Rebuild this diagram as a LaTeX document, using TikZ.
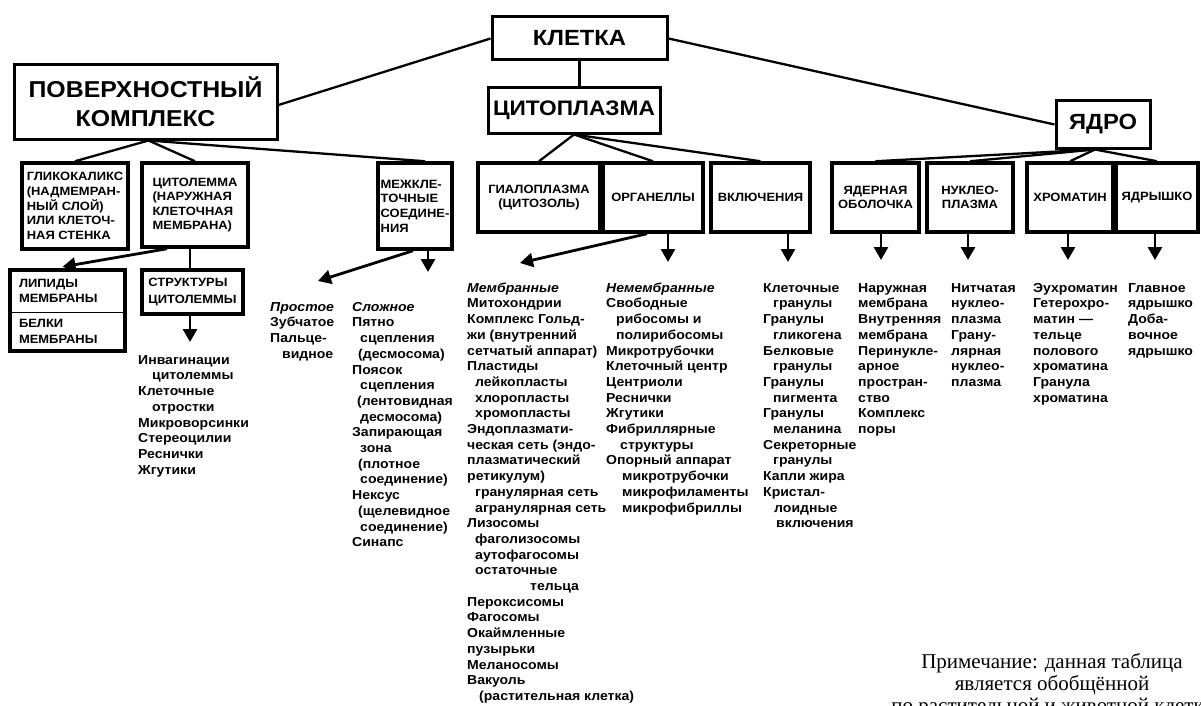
\documentclass[tikz,border=0pt]{standalone}
\usepackage{fontspec}
\setmainfont{Liberation Serif}
\newfontfamily\wsans[FakeStretch=1.08]{Liberation Sans}
\usetikzlibrary{arrows.meta,calc}
\newcommand\myind[1][8pt]{\hspace*{#1}}
\newcommand\firstl{\rule{0pt}{10pt}}
\tikzset{
  topbox/.style={draw, line width=3pt, inner sep=0pt, align=center,
    font=\wsans\bfseries\fontsize{22}{26}\selectfont},
  subbox/.style={draw, line width=3.5pt, inner sep=0pt,
    font=\wsans\bfseries\fontsize{12}{14.6}\selectfont},
  cell/.style={inner ysep=0pt, align=left,
    font=\wsans\bfseries\fontsize{12}{15.5}\selectfont},
  link/.style={line width=2.3pt},
  down/.style={line width=2.8pt, -{Triangle[length=13pt,width=14pt]}},
  col/.style={anchor=north west, inner sep=0pt, align=left,
    font=\wsans\bfseries\fontsize{13}{15.7}\selectfont},
  note/.style={anchor=north, inner sep=0pt, align=center,
    font=\fontsize{21}{22}\selectfont}
}
\begin{document}
\begin{tikzpicture}[x=1pt,y=-1pt]
\fill[white] (0,0) rectangle (1201,706);
\useasboundingbox (0,0) rectangle (1201,706);
\clip (0,0) rectangle (1201,706);

% top level
\node[topbox, minimum width=175pt, minimum height=43pt] (klet) at (579.5,38.5) {КЛЕТКА};
\node[topbox, font=\wsans\bfseries\fontsize{23}{29}\selectfont,
      minimum width=263pt, minimum height=74pt] (pov) at (145.5,102) {ПОВЕРХНОСТНЫЙ\\КОМПЛЕКС};
\node[topbox, font=\wsans\bfseries\fontsize{21}{26}\selectfont,
      minimum width=172pt, minimum height=45pt] (cyto) at (574,110.5) {ЦИТОПЛАЗМА};
\node[topbox, minimum width=94pt, minimum height=47pt] (yadro) at (1103,124.5) {ЯДРО};

% second level: surface complex
\node[subbox, align=left, minimum width=106pt, minimum height=86pt] (glik) at (75,206)
  {ГЛИКОКАЛИКС\\(НАДМЕМРАН-\\НЫЙ СЛОЙ)\\ИЛИ КЛЕТОЧ-\\НАЯ СТЕНКА};
\node[subbox, align=left, minimum width=106pt, minimum height=84pt] (cytol) at (195,205)
  {ЦИТОЛЕММА\\(НАРУЖНАЯ\\КЛЕТОЧНАЯ\\МЕМБРАНА)};
\node[subbox, align=left, minimum width=74pt, minimum height=86pt] (mezh) at (415,206)
  {МЕЖКЛЕ-\\ТОЧНЫЕ\\СОЕДИНЕ-\\НИЯ};

% second level: cytoplasm
\node[subbox, align=center, minimum width=122pt, minimum height=69pt] (gial) at (539,197.5) {ГИАЛОПЛАЗМА\\(ЦИТОЗОЛЬ)};
\node[subbox, align=center, minimum width=100pt, minimum height=69pt] (org) at (653,197.5) {ОРГАНЕЛЛЫ};
\node[subbox, align=center, minimum width=99pt, minimum height=69pt] (vkl) at (760.5,197.5) {ВКЛЮЧЕНИЯ};

% second level: nucleus
\node[subbox, align=center, minimum width=87pt, minimum height=69pt] (yadob) at (875.5,197.5) {ЯДЕРНАЯ\\ОБОЛОЧКА};
\node[subbox, align=center, minimum width=86pt, minimum height=69pt] (nukl) at (970,197.5) {НУКЛЕО-\\ПЛАЗМА};
\node[subbox, align=center, minimum width=86pt, minimum height=69pt] (hrom) at (1070,197.5) {ХРОМАТИН};
\node[subbox, align=center, minimum width=82pt, minimum height=69pt] (yadr) at (1157,197.5) {ЯДРЫШКО};

% third level under the plasma membrane
\node[cell, text width=97pt, inner xsep=9pt, minimum height=42pt] (lipa) at (67.5,291) {ЛИПИДЫ\\МЕМБРАНЫ};
\node[cell, text width=97pt, inner xsep=9pt, minimum height=39pt] (lipb) at (67.5,331.5) {БЕЛКИ\\МЕМБРАНЫ};
\draw[line width=1.2pt] (lipa.south west) -- (lipa.south east);
\draw[line width=3.5pt] (lipa.north west) rectangle (lipb.south east);
\node[subbox, font=\wsans\bfseries\fontsize{12}{16.5}\selectfont, align=left,
      minimum width=101pt, minimum height=44pt] (struct) at (192.5,292) {СТРУКТУРЫ\\ЦИТОЛЕММЫ};

% free ends of the arrows
\coordinate (structD) at (190,342);
\coordinate (mezhL) at (318,281);
\coordinate (mezhD) at (428,272);
\coordinate (orgL) at (520,263);
\coordinate (orgD) at (668,262);
\coordinate (vklD) at (788,262);
\coordinate (yadobD) at (881,260);
\coordinate (nuklD) at (968,260);
\coordinate (hromD) at (1068,260);
\coordinate (yadrD) at (1155,260);

% tree links
\draw[link] (klet.west) -- ($(pov.east)+(0,3)$);
\draw[link] (klet.south) -- (klet.south |- cyto.north);
\draw[link] (klet.east) -- (yadro.west);
\draw[link] ($(pov.south)+(3,0)$) -- (glik.north);
\draw[link] ($(pov.south)+(3,0)$) -- (cytol.north);
\draw[link] ($(pov.south)+(3,0)$) -- ($(mezh.north)+(10,0)$);
\draw[link] (cyto.south) -- (gial.north);
\draw[link] (cyto.south) -- (org.north);
\draw[link] (cyto.south) -- (vkl.north);
\draw[link] ($(yadro.south)+(-8,0)$) -- (yadob.north);
\draw[link] ($(yadro.south)+(-8,0)$) -- (nukl.north);
\draw[link] ($(yadro.south)+(-8,0)$) -- (hrom.north);
\draw[link] ($(yadro.south)+(-8,0)$) -- (yadr.north);
\draw[link] (struct.north -| structD) -- (cytol.south -| structD);

% arrows
\draw[down] ($(cytol.south)+(-28,0)$) -- ($(lipa.north)+(-5,-3)$);
\draw[down] (struct.south -| structD) -- (structD);
\draw[down] ($(mezh.south)+(-2,0)$) -- (mezhL);
\draw[down] (mezh.south -| mezhD) -- (mezhD);
\draw[down] ($(org.south)+(-6,0)$) -- (orgL);
\draw[down] (org.south -| orgD) -- (orgD);
\draw[down] (vkl.south -| vklD) -- (vklD);
\draw[down] (yadob.south -| yadobD) -- (yadobD);
\draw[down] (nukl.south -| nuklD) -- (nuklD);
\draw[down] (hrom.south -| hromD) -- (hromD);
\draw[down] (yadr.south -| yadrD) -- (yadrD);

% lists
\node[col] (colstr) at (138,354) {\firstl Инвагинации\\\myind[14pt]цитолеммы\\Клеточные\\\myind[14pt]отростки\\Микроворсинки\\Стереоцилии\\Реснички\\Жгутики};
\node[col] (colprost) at (270,301) {\firstl\textit{Простое}\\Зубчатое\\Пальце-\\\myind[12pt]видное};
\node[col] (colslozh) at (352,301) {\firstl\textit{Сложное}\\Пятно\\\myind сцепления\\\myind[6pt](десмосома)\\Поясок\\\myind сцепления\\\myind[5pt](лентовидная\\\myind десмосома)\\Запирающая\\\myind зона\\\myind[6pt](плотное\\\myind соединение)\\Нексус\\\myind[6pt](щелевидное\\\myind соединение)\\Синапс};
\node[col] (colmem) at (467,282) {\firstl\textit{Мембранные}\\Митохондрии\\Комплекс Гольд-\\жи (внутренний\\сетчатый аппарат)\\Пластиды\\\myind лейкопласты\\\myind хлоропласты\\\myind хромопласты\\Эндоплазмати-\\ческая сеть (эндо-\\плазматический\\ретикулум)\\\myind гранулярная сеть\\\myind агранулярная сеть\\Лизосомы\\\myind фаголизосомы\\\myind аутофагосомы\\\myind остаточные\\\myind[63pt]тельца\\Пероксисомы\\Фагосомы\\Окаймленные\\пузырьки\\Меланосомы\\Вакуоль\\\myind[12pt](растительная клетка)};
\node[col] (colnemem) at (606,282) {\firstl\textit{Немембранные}\\Свободные\\\myind[10pt]рибосомы и\\\myind[10pt]полирибосомы\\Микротрубочки\\Клеточный центр\\Центриоли\\Реснички\\Жгутики\\Фибриллярные\\\myind[14pt]структуры\\Опорный аппарат\\\myind[16pt]микротрубочки\\\myind[16pt]микрофиламенты\\\myind[16pt]микрофибриллы};
\node[col] (colvkl) at (763,282) {\firstl Клеточные\\\myind[10pt]гранулы\\Гранулы\\\myind[10pt]гликогена\\Белковые\\\myind[10pt]гранулы\\Гранулы\\\myind[10pt]пигмента\\Гранулы\\\myind[10pt]меланина\\Секреторные\\\myind[10pt]гранулы\\Капли жира\\Кристал-\\\myind[11pt]лоидные\\\myind[13pt]включения};
\node[col] (colyo) at (858,282) {\firstl Наружная\\мембрана\\Внутренняя\\мембрана\\Перинукле-\\арное\\простран-\\ство\\Комплекс\\поры};
\node[col] (colnp) at (951,282) {\firstl Нитчатая\\нуклео-\\плазма\\Грану-\\лярная\\нуклео-\\плазма};
\node[col] (colhr) at (1033,282) {\firstl Эухроматин\\Гетерохро-\\матин —\\тельце\\полового\\хроматина\\Гранула\\хроматина};
\node[col] (colyadr) at (1128,282) {\firstl Главное\\ядрышко\\Доба-\\вочное\\ядрышко};

% footnote
\node[note] (remark) at (1052,652) {\rule{0pt}{16pt}Примечание: данная таблица\\является обобщённой\\по растительной и животной клетке};
\end{tikzpicture}
\end{document}
